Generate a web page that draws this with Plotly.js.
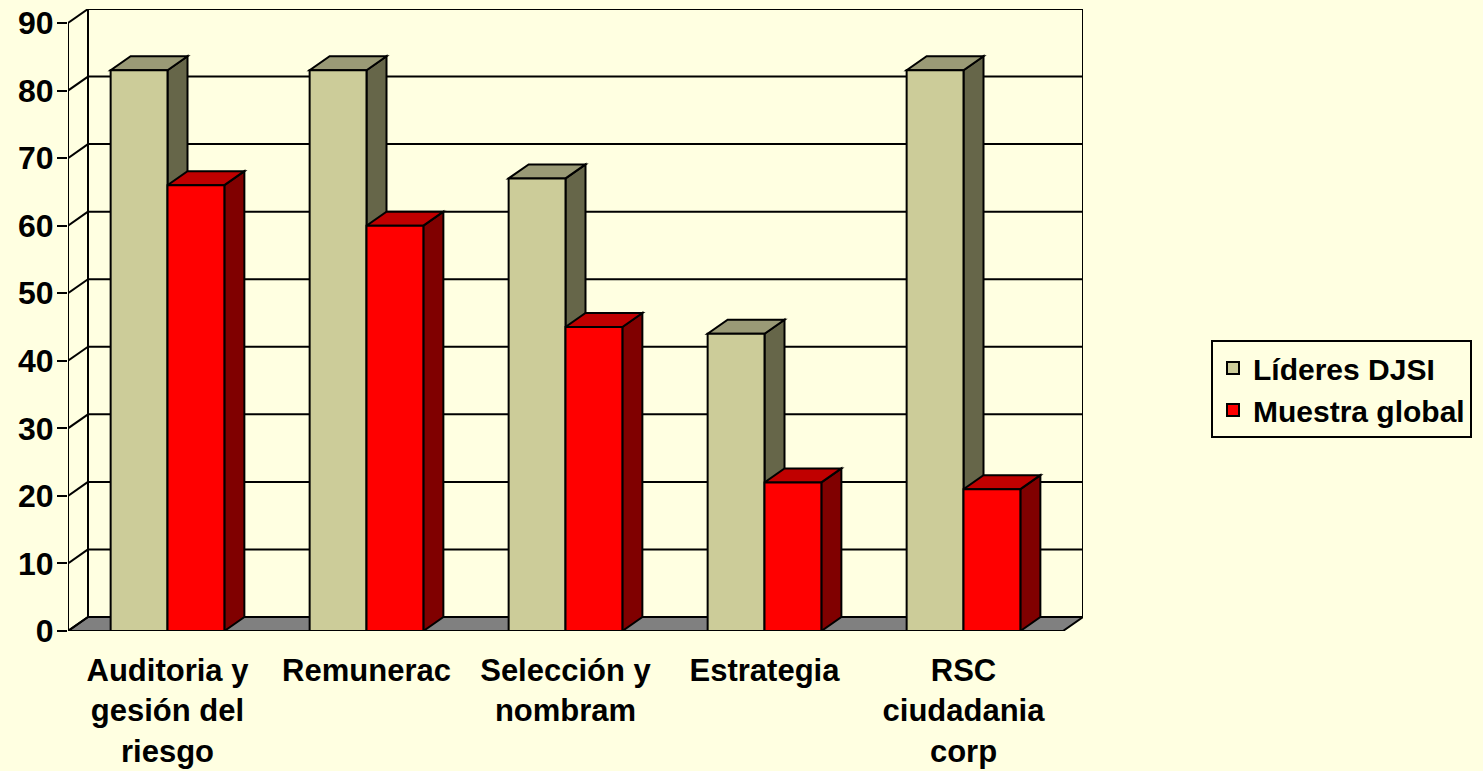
<!DOCTYPE html>
<html>
<head>
<meta charset="utf-8">
<script src="https://cdn.plot.ly/plotly-3.0.1.min.js"></script>
<style>
  html, body { margin: 0; padding: 0; background: #FFFFE1; }
  #chart { width: 1483px; height: 771px; }
</style>
</head>
<body>
<div id="chart"></div>
<script>
// ---- data ----
const categories = ["Auditoria y<br>gesión del<br>riesgo", "Remunerac", "Selección y<br>nombram", "Estrategia", "RSC<br>ciudadania<br>corp"];
const seriesNames = ["Líderes DJSI", "Muestra global"];
const lideres = [83, 83, 67, 44, 83];
const muestra = [66, 60, 45, 22, 21];
const yTickVals = [0, 10, 20, 30, 40, 50, 60, 70, 80, 90];

// ---- styling / geometry (not data) ----
const BG = "#FFFFE1";
const FONT = "Arial, 'Liberation Sans', sans-serif";
const frontCols = ["#CCCC99", "#FF0000"];
const topCols = ["#9A9A76", "#C00000"];
const sideCols = ["#666649", "#800000"];
const LW = 2;

const ml = 68, mr = 400, mt = 9, mb = 140;
const W = 1483, H = 771;
const plotW = W - ml - mr, plotH = H - mt - mb;
const n = categories.length;
const dxPx = 20, dyPx = 14;
const pxPerCat = 199;
const dx = dxPx / pxPerCat;
const yTop = yTickVals[yTickVals.length - 1];
const pxPerUnit = (plotH - dyPx) / yTop;
const dy = dyPx / pxPerUnit;
const xMin = -0.5, xMax = n - 0.5;
const barW = 1 / 3.5;
const offsets = [-barW, 0];
const series = [lideres, muestra];

const shapes = [];
function poly(pts, fill) {
  const d = pts.map((p, i) => (i ? "L" : "M") + p[0] + "," + p[1]).join(" ") + " Z";
  shapes.push({type: "path", xref: "x", yref: "y", path: d, fillcolor: fill,
               line: {color: "black", width: LW}, layer: "below"});
}
function seg(x0, y0, x1, y1) {
  shapes.push({type: "line", xref: "x", yref: "y", x0, y0, x1, y1,
               line: {color: "black", width: LW}, layer: "below"});
}

// floor
poly([[xMin, 0], [xMax, 0], [xMax + dx, dy], [xMin + dx, dy]], "#808080");
// gridlines on left + back wall
yTickVals.forEach(v => {
  seg(xMin, v, xMin + dx, v + dy);
  seg(xMin + dx, v + dy, xMax + dx, v + dy);
});
// wall edges
seg(xMin + dx, dy, xMin + dx, yTop + dy);
seg(xMax + dx, dy, xMax + dx, yTop + dy);
// front y axis line
seg(xMin, 0, xMin, yTop);
// category boundary ticks
for (let b = 0; b <= n; b++) {
  shapes.push({type: "line", xref: "x", yref: "y", ysizemode: "pixel", yanchor: 0,
               x0: xMin + b, x1: xMin + b, y0: 0, y1: -10,
               line: {color: "black", width: LW}, layer: "below"});
}
// 3D sides and tops of bars
for (let i = 0; i < n; i++) {
  for (let s = 0; s < 2; s++) {
    const v = series[s][i];
    const x0 = i + offsets[s], x1 = x0 + barW;
    poly([[x1, 0], [x1 + dx, dy], [x1 + dx, v + dy], [x1, v]], sideCols[s]);
    poly([[x0, v], [x1, v], [x1 + dx, v + dy], [x0 + dx, v + dy]], topCols[s]);
  }
}

const xIdx = categories.map((_, i) => i);
const traces = series.map((vals, s) => ({
  type: "bar",
  name: seriesNames[s],
  x: xIdx,
  y: vals,
  width: barW,
  offset: offsets[s],
  marker: {color: frontCols[s], line: {color: "black", width: LW}},
  legendgroup: "g" + s,
  hoverinfo: "skip"
}));

const layout = {
  width: W, height: H,
  margin: {l: ml, r: mr, t: mt, b: mb, pad: 0},
  paper_bgcolor: BG,
  plot_bgcolor: BG,
  showlegend: true,
  barmode: "overlay",
  font: {family: FONT, color: "black"},
  xaxis: {
    type: "linear",
    range: [xMin, xMax + dx],
    tickvals: xIdx,
    ticktext: categories,
    ticks: "",
    showgrid: false, zeroline: false, showline: false,
    tickfont: {family: FONT, size: 31, weight: "bold", color: "black"},
    ticklabelstandoff: 18,
    fixedrange: true
  },
  yaxis: {
    range: [0, yTop + dy],
    tickvals: yTickVals,
    ticks: "outside", ticklen: 10, tickwidth: LW, tickcolor: "black",
    showgrid: false, zeroline: false, showline: false,
    tickfont: {family: FONT, size: 32, weight: "bold", color: "black"},
    ticklabelstandoff: -3,
    fixedrange: true
  },
  legend: {
    x: (1211 - ml) / plotW, y: (H - mb - 340) / plotH,
    xanchor: "left", yanchor: "top",
    bgcolor: BG, bordercolor: "black", borderwidth: LW,
    font: {family: FONT, size: 30, weight: "bold", color: "black"},
    tracegroupgap: 8,
    traceorder: "normal"
  },
  shapes: shapes
};

Plotly.newPlot("chart", traces, layout, {displayModeBar: false, staticPlot: true});
</script>
</body>
</html>
